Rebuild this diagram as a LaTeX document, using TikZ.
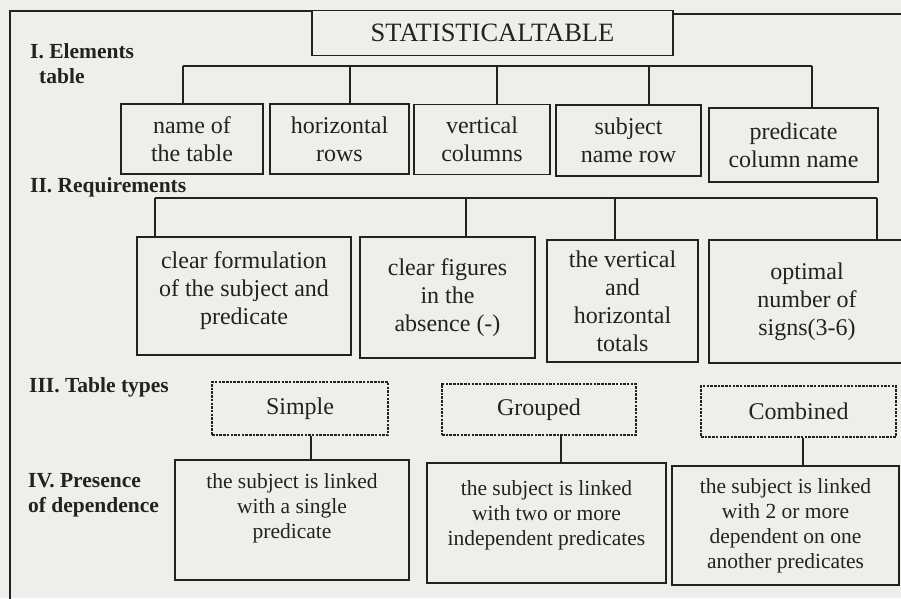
\documentclass[tikz,border=0pt]{standalone}
\usepackage{fontspec}
\setmainfont{Liberation Serif}
\definecolor{ink}{RGB}{34,34,34}
\definecolor{bg}{RGB}{238,238,235}
\begin{document}
\begin{tikzpicture}[x=1pt,y=-1pt,
  box/.style={draw=ink, line width=1.4pt, inner sep=0pt, align=center,
    font=\fontsize{24}{28}\selectfont, text=ink},
  sbox/.style={box, font=\fontsize{21.5}{25}\selectfont},
  dbox/.style={box, line width=1.3pt, dash pattern=on 2.5pt off 1.2pt},
  lab/.style={anchor=west, align=left, inner sep=0pt, text=ink,
    font=\fontsize{21.5}{25}\selectfont\bfseries},
  conn/.style={draw=ink, line width=1.4pt}]
\useasboundingbox (0,0) rectangle (901,598);
\fill[bg] (0,0) rectangle (901,598);

% title
\node[box, minimum width=361pt, minimum height=45pt, font=\fontsize{26.5}{30}\selectfont] (stat) at (492.5,33) {STATISTICALTABLE};

% outer frame
\coordinate (fr0) at (10,600);
\coordinate (fr1) at (10,11);
\coordinate (fr2) at (905,14);
\draw[conn] (fr0) -- (fr1) -- (fr1 -| stat.west);
\draw[conn] (stat.east |- fr2) -- (fr2);

% labels
\node[lab] (l1) at (30,64) {I. Elements\\\hspace*{9pt}table};
\node[lab] (l2) at (30,187) {II. Requirements};
\node[lab] (l3) at (29,387) {III. Table types};
\node[lab] (l4) at (28,495) {IV. Presence\\of dependence};

% level I
\node[box, minimum width=142pt, minimum height=70pt] (n1) at (192,139) {name of\\the table};
\node[box, minimum width=139pt, minimum height=70pt] (n2) at (339.5,139) {horizontal\\rows};
\node[box, minimum width=136pt, minimum height=70pt] (n3) at (482,139.5) {vertical\\columns};
\node[box, minimum width=145pt, minimum height=71pt] (n4) at (628.5,140.5) {subject\\name row};
\node[box, minimum width=169pt, minimum height=74pt] (n5) at (793.5,145) {predicate\\column name};

\coordinate (a1) at (183,66);
\coordinate (a2) at (350,66);
\coordinate (a3) at (497,66);
\coordinate (a4) at (649,66);
\coordinate (a5) at (812,66);
\draw[conn] (a1) -- (a5);
\draw[conn] (a1) -- (a1 |- n1.north);
\draw[conn] (a2) -- (a2 |- n2.north);
\draw[conn] (a3) -- (a3 |- n3.north);
\draw[conn] (a4) -- (a4 |- n4.north);
\draw[conn] (a5) -- (a5 |- n5.north);

% level II
\node[box, minimum width=214pt, minimum height=118pt] (r1) at (244,296) {clear formulation\\of the subject and\\predicate\\[-20pt]\strut};
\node[box, minimum width=175pt, minimum height=121pt] (r2) at (447.5,297.5) {clear figures\\in the\\absence (-)};
\node[box, minimum width=151pt, minimum height=122pt] (r3) at (622.5,301) {the vertical\\and\\horizontal\\totals};
\node[box, minimum width=196pt, minimum height=123pt] (r4) at (807,301.5) {optimal\\number of\\signs(3-6)};

\coordinate (c1) at (155,198);
\coordinate (c2) at (466,198);
\coordinate (c3) at (615,198);
\coordinate (c4) at (877,198);
\draw[conn] (c1) -- (c4);
\draw[conn] (c1) -- (c1 |- r1.north);
\draw[conn] (c2) -- (c2 |- r2.north);
\draw[conn] (c3) -- (c3 |- r3.north);
\draw[conn] (c4) -- (c4 |- r4.north);

% level III
\node[dbox, minimum width=176pt, minimum height=53pt] (s1) at (300,408.5) {Simple};
\node[dbox, minimum width=194pt, minimum height=51pt] (s2) at (539,409.5) {Grouped};
\node[dbox, minimum width=195pt, minimum height=51pt] (s3) at (798.5,411.5) {Combined};

% level IV
\node[sbox, minimum width=234pt, minimum height=120pt] (d1) at (292,520) {the subject is linked\\with a single\\predicate\\[-5pt]\strut};
\node[sbox, minimum width=239pt, minimum height=120pt] (d2) at (546.5,523) {the subject is linked\\with two or more\\independent predicates\\[-13pt]\strut};
\node[sbox, minimum width=227pt, minimum height=119pt] (d3) at (785.5,525.5) {the subject is linked\\with 2 or more\\dependent on one\\another predicates};

\coordinate (e1) at (311,0);
\coordinate (e2) at (561,0);
\coordinate (e3) at (803,0);
\draw[conn] (e1 |- s1.south) -- (e1 |- d1.north);
\draw[conn] (e2 |- s2.south) -- (e2 |- d2.north);
\draw[conn] (e3 |- s3.south) -- (e3 |- d3.north);
\end{tikzpicture}
\end{document}
